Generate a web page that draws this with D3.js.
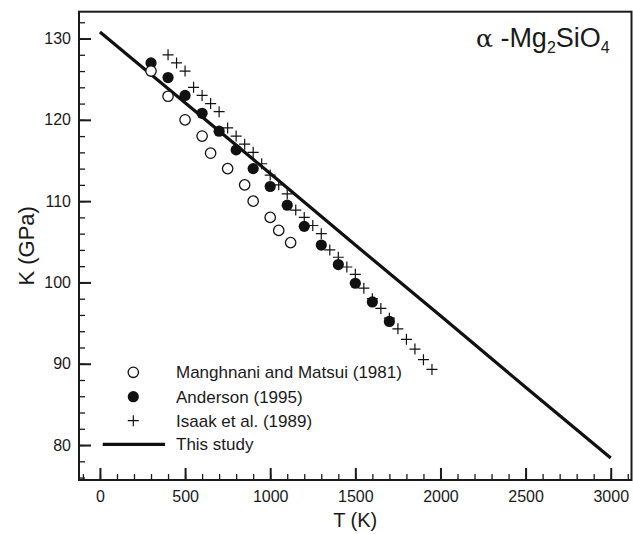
<!DOCTYPE html>
<html>
<head>
<meta charset="utf-8">
<script src="https://cdn.jsdelivr.net/npm/d3@7"></script>
<style>
  body { margin: 0; background: #fff; }
  text { font-family: "Liberation Sans", Arial, sans-serif; fill: #1a1a1a; }
</style>
</head>
<body>
<script>
// Manghnani and Matsui (1981), open circles
var mmT = [300, 400, 500, 600, 650, 750, 850, 900, 1000, 1050, 1120];
var mmK = [126.0, 122.9, 120.0, 118.0, 115.9, 114.0, 112.0, 110.0, 108.0, 106.4, 104.9];

// Anderson (1995), filled circles
var andT = [300, 400, 500, 600, 700, 800, 900, 1000, 1100, 1200, 1300, 1400, 1500, 1600, 1700];
var andK = [127.0, 125.2, 123.0, 120.8, 118.6, 116.3, 114.0, 111.8, 109.5, 106.9, 104.6, 102.2, 99.9, 97.6, 95.2];

// Isaak et al. (1989), crosses
var isT = [400, 450, 500, 550, 600, 650, 700, 750, 800, 850, 900, 950, 1000, 1050, 1100, 1150, 1200,
  1250, 1300, 1350, 1400, 1450, 1500, 1550, 1600, 1650, 1700, 1750, 1800, 1850, 1900, 1950];
var isK = [128.0, 127.0, 126.0, 124.0, 123.0, 122.0, 121.0, 119.0, 118.0, 117.0, 116.0, 114.6, 113.2, 112.0, 110.9, 108.9, 108.0,
  107.0, 106.0, 104.0, 103.1, 101.9, 101.0, 99.3, 98.0, 96.8, 95.6, 94.3, 93.0, 91.8, 90.5, 89.3];

// This study, solid line
var studyT = [0, 500, 1000, 1500, 2000, 2500, 3000];
var studyK = [130.8, 122.1, 113.4, 104.6, 95.9, 87.1, 78.4];

var xTicks = [0, 500, 1000, 1500, 2000, 2500, 3000];
var yTicks = [80, 90, 100, 110, 120, 130];
var legendLabels = ["Manghnani and Matsui (1981)", "Anderson (1995)", "Isaak et al. (1989)", "This study"];

function draw() {
  var svg = d3.select('body').append('svg')
    .attr('width', 633)
    .attr('height', 534);

  var pl = 79, pr = 631.5, pt = 11.7, pb = 480;

  var x = d3.scaleLinear().domain([-123, 3122]).range([pl, pr]);
  var y = d3.scaleLinear().domain([75.7, 133.3]).range([pb, pt]);

  function zip(a, b) { return a.map(function (v, i) { return { t: v, k: b[i] }; }); }

  // minor ticks
  svg.append("g")
    .attr("transform", "translate(0," + pb + ")")
    .call(d3.axisBottom(x).tickValues(d3.range(-100, 3101, 100)).tickSize(-6).tickFormat(""))
    .call(function (g) { g.select(".domain").remove(); })
    .selectAll("line").attr("stroke", "#1a1a1a").attr("stroke-width", 1.3);

  svg.append("g")
    .attr("transform", "translate(" + pl + ",0)")
    .call(d3.axisLeft(y).tickValues(d3.range(76, 133, 2)).tickSize(-6).tickFormat(""))
    .call(function (g) { g.select(".domain").remove(); })
    .selectAll("line").attr("stroke", "#1a1a1a").attr("stroke-width", 1.3);

  // major ticks
  var xa = svg.append("g")
    .attr("transform", "translate(0," + pb + ")")
    .call(d3.axisBottom(x).tickValues(xTicks).tickSize(-12).tickPadding(11).tickFormat(d3.format("d")));
  xa.select(".domain").remove();
  xa.selectAll("line").attr("stroke", "#1a1a1a").attr("stroke-width", 2);
  xa.selectAll("text").style("font-size", "16px").style("font-family", "Liberation Sans, Arial, sans-serif").attr("fill", "#1a1a1a");

  var ya = svg.append("g")
    .attr("transform", "translate(" + pl + ",0)")
    .call(d3.axisLeft(y).tickValues(yTicks).tickSize(-12).tickPadding(8).tickFormat(d3.format("d")));
  ya.select(".domain").remove();
  ya.selectAll("line").attr("stroke", "#1a1a1a").attr("stroke-width", 2);
  ya.selectAll("text").style("font-size", "16px").style("font-family", "Liberation Sans, Arial, sans-serif").attr("fill", "#1a1a1a");

  // frame
  svg.append("rect")
    .attr("x", pl).attr("y", pt)
    .attr("width", pr - pl).attr("height", pb - pt)
    .attr("fill", "none").attr("stroke", "#1a1a1a").attr("stroke-width", 2);

  // axis titles
  svg.append("text")
    .attr("x", (pl + pr) / 2).attr("y", 527)
    .style("text-anchor", "middle").style("font-size", "20px")
    .text("T (K)");

  svg.append("text")
    .attr("transform", "translate(34," + (pt + pb) / 2 + ") rotate(-90)")
    .style("text-anchor", "middle").style("font-size", "22px")
    .text("K (GPa)");

  // this study line
  var line = d3.line().x(function (d) { return x(d.t); }).y(function (d) { return y(d.k); });
  svg.append("path")
    .datum(zip(studyT, studyK))
    .attr("d", line)
    .attr("fill", "none").attr("stroke", "#111").attr("stroke-width", 3.2);

  // isaak crosses
  function plus(sel, s) {
    sel.append("path")
      .attr("d", "M" + (-s) + ",0H" + s + "M0," + (-s) + "V" + s)
      .attr("stroke", "#111").attr("stroke-width", 1.2).attr("fill", "none");
  }
  svg.append("g").selectAll("g")
    .data(zip(isT, isK)).enter().append("g")
    .attr("transform", function (d) { return "translate(" + x(d.t) + "," + y(d.k) + ")"; })
    .each(function () { plus(d3.select(this), 5.5); });

  // anderson filled circles
  svg.append("g").selectAll("circle")
    .data(zip(andT, andK)).enter().append("circle")
    .attr("cx", function (d) { return x(d.t); })
    .attr("cy", function (d) { return y(d.k); })
    .attr("r", 5.6).attr("fill", "#111");

  // manghnani open circles
  svg.append("g").selectAll("circle")
    .data(zip(mmT, mmK)).enter().append("circle")
    .attr("cx", function (d) { return x(d.t); })
    .attr("cy", function (d) { return y(d.k); })
    .attr("r", 5.2).attr("fill", "#fff").attr("stroke", "#111").attr("stroke-width", 1.3);

  // legend
  var lg = svg.append("g");
  var ly = [372.3, 396.7, 420.7, 444.3];
  lg.append("circle").attr("cx", 133.3).attr("cy", ly[0]).attr("r", 5.2)
    .attr("fill", "#fff").attr("stroke", "#111").attr("stroke-width", 1.3);
  lg.append("circle").attr("cx", 133.3).attr("cy", ly[1]).attr("r", 5.6).attr("fill", "#111");
  plus(lg.append("g").attr("transform", "translate(133.3," + ly[2] + ")"), 5.5);
  lg.append("line").attr("x1", 102.7).attr("x2", 165).attr("y1", ly[3]).attr("y2", ly[3])
    .attr("stroke", "#111").attr("stroke-width", 3.2);
  legendLabels.forEach(function (t, i) {
    lg.append("text").attr("x", 176).attr("y", ly[i]).attr("dy", "0.36em")
      .style("font-size", "17px").text(t);
  });

  // title
  var title = svg.append("text")
    .attr("x", 476).attr("y", 47)
    .style("font-size", "27px");
  title.append("tspan").style("font-family", "DejaVu Serif, serif").style("font-size", "25px").text("α");
  title.append("tspan").text(" -Mg");
  title.append("tspan").attr("dy", 6).style("font-size", "16px").text("2");
  title.append("tspan").attr("dy", -6).text("SiO");
  title.append("tspan").attr("dy", 6).style("font-size", "16px").text("4");
}

draw();
</script>
</body>
</html>
